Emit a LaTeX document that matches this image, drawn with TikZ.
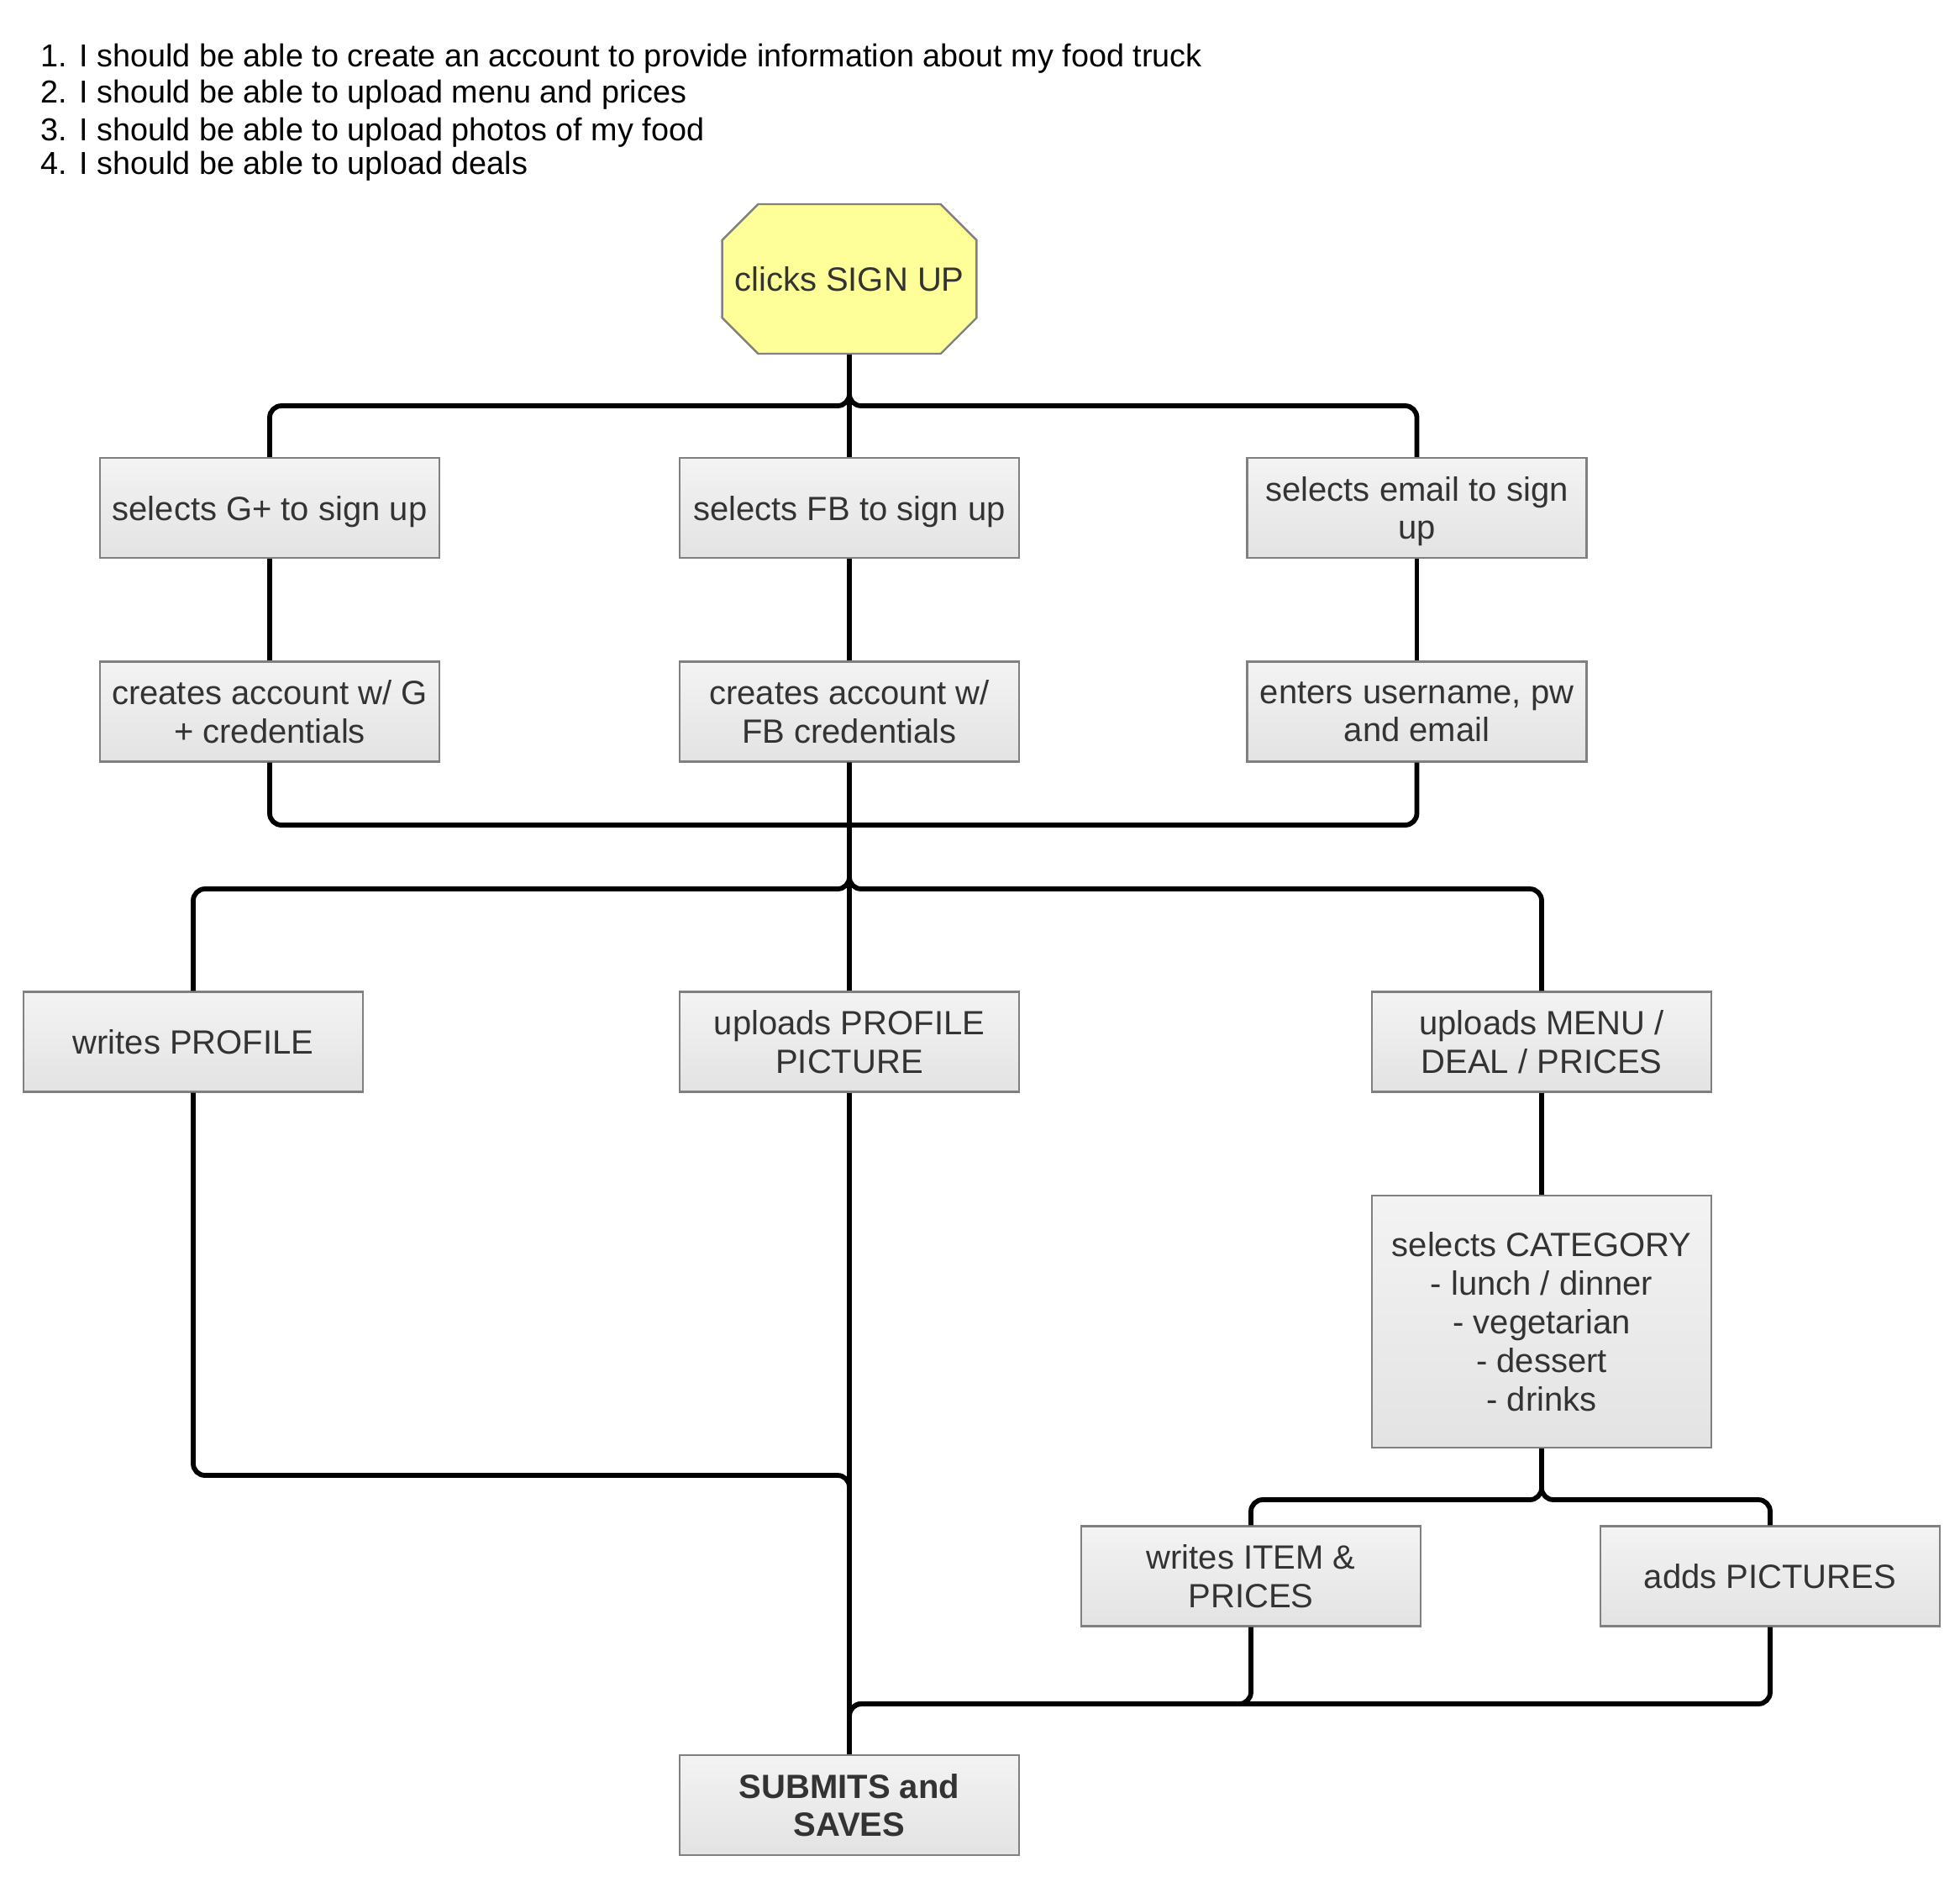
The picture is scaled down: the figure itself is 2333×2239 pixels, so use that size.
\documentclass[tikz,border=0pt]{standalone}
\usepackage{fontspec}
\setmainfont{Liberation Sans}
\usetikzlibrary{shapes.misc}
\definecolor{boxborder}{HTML}{808080}
\definecolor{boxtop}{HTML}{F3F3F3}
\definecolor{boxbot}{HTML}{E3E3E3}
\definecolor{txt}{HTML}{333333}
\definecolor{octfill}{HTML}{FFFF99}
\tikzset{
  box/.style={draw=boxborder, line width=0.6pt, top color=boxtop, bottom color=boxbot,
    minimum width=101pt, minimum height=29.75pt, inner sep=0pt, align=center, text=txt,
    font=\fontsize{10}{11.45}\selectfont, text depth=0pt},
  octbox/.style={chamfered rectangle, chamfered rectangle xsep=7pt, chamfered rectangle ysep=7pt,
    draw=boxborder, line width=0.6pt, fill=octfill, minimum width=74.5pt, minimum height=44.5pt,
    inner sep=0pt, text=txt, font=\fontsize{10}{11.45}\selectfont},
  conn/.style={line width=1.45pt, rounded corners=3.5pt},
  story/.style={anchor=base west, inner sep=0pt, font=\fontsize{9.45}{11}\selectfont},
}
\begin{document}
\begin{tikzpicture}[x=0.25pt,y=-0.25pt]
\path[use as bounding box, fill=white] (0,0) rectangle (2333,2239);

\node[story] (s1) at (48,79) {1. I should be able to create an account to provide information about my food truck};
\node[story] (s2) at (48,122) {2. I should be able to upload menu and prices};
\node[story] (s3) at (48,167) {3. I should be able to upload photos of my food};
\node[story] (s4) at (48,207) {4. I should be able to upload deals};

\node[octbox] (oct) at (1011,332) {clicks SIGN UP};

\node[box] (G) at (321,604.5) {selects G+ to sign up};
\node[box] (FB) at (1011,604.5) {selects FB to sign up};
\node[box] (email) at (1686.5,604.5) {selects email to sign\\up};

\node[box] (cG) at (321,847) {creates account w/ G\\+ credentials};
\node[box] (cFB) at (1011,847) {creates account w/\\FB credentials};
\node[box] (enters) at (1686.5,847) {enters username, pw\\and email};

\node[box] (wp) at (230,1240) {writes PROFILE};
\node[box] (upp) at (1011,1240) {uploads PROFILE\\PICTURE};
\node[box] (um) at (1835,1240) {uploads MENU /\\DEAL / PRICES};

\node[box, minimum height=75pt] (cat) at (1835,1573) {selects CATEGORY\\- lunch / dinner\\- vegetarian\\- dessert\\- drinks};

\node[box] (wi) at (1489,1876) {writes ITEM \&\\PRICES};
\node[box] (ap) at (2107,1876) {adds PICTURES};

\node[box, font=\fontsize{10}{11.45}\selectfont\bfseries] (sub) at (1011,2148.5) {SUBMITS and\\SAVES};

\coordinate (t1) at (1011,483);
\coordinate (b1) at (1011,982);
\coordinate (b2) at (1011,1058);
\coordinate (b3) at (1835,1785);
\coordinate (b4) at (1011,1756);
\coordinate (b5) at (1011,2028);

\draw[conn] (oct.south) -- (FB.north);
\draw[conn] (oct.south) -- (t1) -| (G.north);
\draw[conn] (oct.south) -- (t1) -| (email.north);

\draw[conn] (G.south) -- (cG.north);
\draw[conn] (FB.south) -- (cFB.north);
\draw[conn] (email.south) -- (enters.north);

\draw[conn] (cG.south) |- (b1);
\draw[conn] (enters.south) |- (b1);
\draw[conn] (cFB.south) -- (upp.north);
\draw[conn] (cFB.south) -- (b2) -| (wp.north);
\draw[conn] (cFB.south) -- (b2) -| (um.north);

\draw[conn] (um.south) -- (cat.north);
\draw[conn] (cat.south) -- (b3) -| (wi.north);
\draw[conn] (cat.south) -- (b3) -| (ap.north);

\draw[conn] (wp.south) |- (b4) -- (sub.north);
\draw[conn] (upp.south) -- (sub.north);
\draw[conn] (wi.south) |- (b5) -- (sub.north);
\draw[conn] (ap.south) |- (b5) -- (sub.north);
\end{tikzpicture}
\end{document}
